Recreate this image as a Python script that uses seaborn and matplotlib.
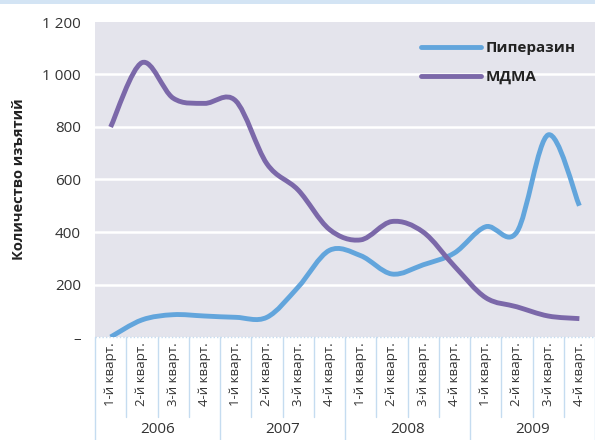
import numpy as np
import pandas as pd
import matplotlib
matplotlib.use("Agg")
import matplotlib.pyplot as plt
import seaborn as sns
from matplotlib.path import Path
from matplotlib.patches import PathPatch, Rectangle
from matplotlib.lines import Line2D
from matplotlib.ticker import FixedLocator, FuncFormatter

# Quarterly seizure counts, 2006-2009
years = ["2006", "2007", "2008", "2009"]
quarters = ["1-й кварт.", "2-й кварт.", "3-й кварт.", "4-й кварт."]
piperazine = [0, 65, 85, 80, 75, 75, 190, 330, 310, 240, 275, 320, 420, 400, 770, 500]
mdma = [800, 1045, 910, 890, 900, 660, 560, 410, 370, 440, 400, 270, 150, 115, 80, 70]
series_names = ["Пиперазин", "МДМА"]
series_colors = ["#62A5DC", "#7B68A9"]

yticks = [0, 200, 400, 600, 800, 1000, 1200]

labels = [q for _ in years for q in quarters]
n = len(labels)
df = pd.DataFrame({
    "idx": list(range(n)) * 2,
    "value": piperazine + mdma,
    "series": [series_names[0]] * n + [series_names[1]] * n,
})

sns.set_theme(style="white")
plt.rcParams["font.family"] = ["Open Sans", "DejaVu Sans"]

fig = plt.figure(figsize=(5.95, 4.4), dpi=100)
ax = fig.add_axes([95 / 595, 103 / 440, 1 - 95 / 595, 315 / 440])
ax.set_facecolor("#E4E4EC")

# thin blue band along the top of the figure
fig.patches.append(Rectangle((0, 1 - 4 / 440), 1, 4 / 440, transform=fig.transFigure,
                             facecolor="#D3E4F4", edgecolor="none", zorder=0))

sns.lineplot(data=df, x="idx", y="value", hue="series", palette=series_colors,
             hue_order=series_names, ax=ax, legend=False, linewidth=3.5)


def smooth_path(xs, ys, tension=1 / 6):
    """Catmull-Rom curve through the points expressed as cubic Bezier segments."""
    xs = np.asarray(xs, float)
    ys = np.asarray(ys, float)
    pts = np.column_stack([xs, ys])
    verts = [pts[0]]
    codes = [Path.MOVETO]
    for i in range(len(pts) - 1):
        p0 = pts[i - 1] if i > 0 else pts[i]
        p1 = pts[i]
        p2 = pts[i + 1]
        p3 = pts[i + 2] if i + 2 < len(pts) else pts[i + 1]
        c1 = p1 + (p2 - p0) * tension
        c2 = p2 - (p3 - p1) * tension
        verts += [c1, c2, p2]
        codes += [Path.CURVE4] * 3
    return Path(verts, codes)


for line, name, color in zip(ax.lines, series_names, series_colors):
    xd, yd = line.get_xdata(), line.get_ydata()
    line.set_visible(False)
    patch = PathPatch(smooth_path(xd, yd), facecolor="none", edgecolor=color,
                      linewidth=3.5, capstyle="butt", joinstyle="round", zorder=3)
    ax.add_patch(patch)

ax.set_xlim(-0.5, n - 0.5)
ax.set_ylim(0, 1200)

# white horizontal gridlines
ax.yaxis.set_major_locator(FixedLocator(yticks))
for y in yticks[1:-1]:
    ax.axhline(y, color="white", linewidth=1.8, zorder=1)


def fmt(v, _):
    v = int(round(v))
    if v == 0:
        return "–"
    return f"{v:,}".replace(",", " ")


ax.yaxis.set_major_formatter(FuncFormatter(fmt))
ax.tick_params(axis="y", length=0, pad=10, labelsize=11, labelcolor="#333333")
ax.set_ylabel("Количество изъятий", fontsize=10.5, fontweight="bold", color="#222222",
              labelpad=12)

ax.set_xticks(range(n))
ax.set_xticklabels(labels, rotation=90, fontsize=9.5, color="#333333", va="top")
ax.tick_params(axis="x", length=0, pad=4)
ax.set_xlabel("")

for s in ax.spines.values():
    s.set_visible(False)

# category separators and year labels below the axis
sep_color = "#C5DCF0"
trans = ax.get_xaxis_transform()
ax.plot([-0.5, n - 0.5], [0, 0], transform=trans, color=sep_color, lw=1,
        ls=(0, (1, 1.5)), clip_on=False)
for k in range(n + 1):
    x = k - 0.5
    bottom = -0.33 if k % 4 == 0 else -0.255
    ax.plot([x, x], [0, bottom], transform=trans, color=sep_color, lw=1, clip_on=False)
for j, yr in enumerate(years):
    ax.text(j * 4 + 1.5, -0.295, yr, transform=trans, ha="center", va="center",
            fontsize=11, color="#333333")

handles = [Line2D([], [], color=c, lw=3.5) for c in series_colors]
leg = ax.legend(handles, series_names, loc="upper right", bbox_to_anchor=(0.962, 0.94),
                borderaxespad=0, borderpad=0, frameon=False, handlelength=3.9,
                handletextpad=0.35, labelspacing=1.0,
                prop={"size": 11, "weight": "bold"})
for t in leg.get_texts():
    t.set_color("#222222")

fig.savefig("out.png", dpi=100)
